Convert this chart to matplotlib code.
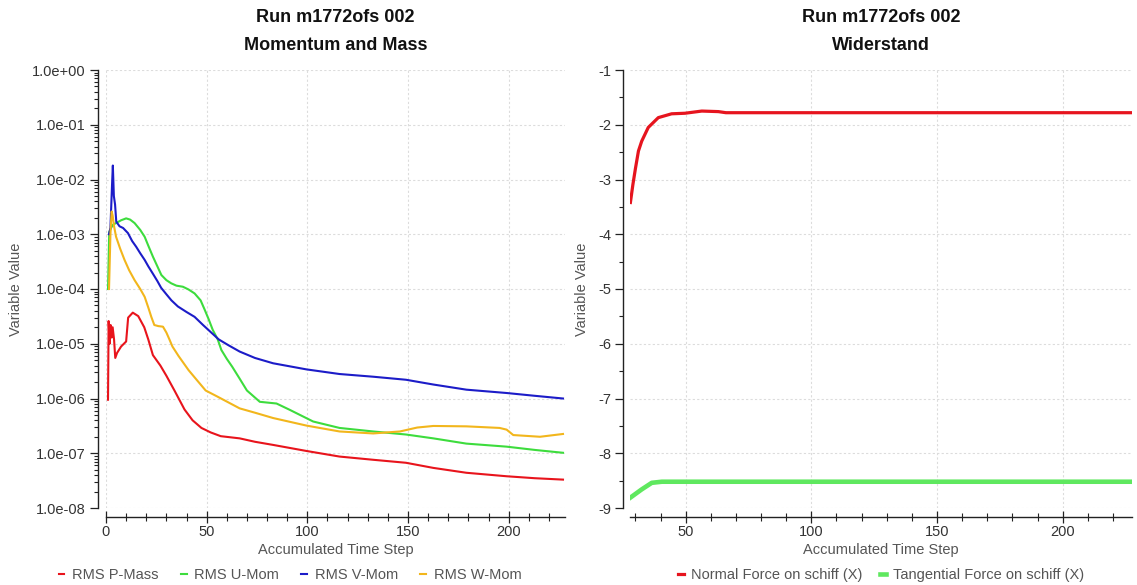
import matplotlib
matplotlib.use("Agg")
from matplotlib import pyplot as plt
from matplotlib.ticker import MultipleLocator, LogLocator, FixedLocator, NullFormatter, FuncFormatter
import numpy as np

plt.rcParams['font.family'] = ['Liberation Sans', 'DejaVu Sans']
plt.rcParams['axes.unicode_minus'] = False

run_title = "Run m1772ofs 002"

# left panel: residuals
p_mass_x = [1, 1.3, 1.8, 2.3, 2.8, 3.3, 4, 4.6, 5.5, 7.5, 10, 11, 13.3, 16, 19, 21, 23.3,
            27, 30, 34, 39, 43, 47.4, 52, 57, 66.4, 74, 83, 99.6, 116, 132.7, 149,
            162.6, 179, 199, 213, 227]
p_mass_y = [9.5e-7, 2.6e-5, 1.0e-5, 2.2e-5, 1.3e-5, 2.0e-5, 1.2e-5, 5.5e-6, 6.8e-6, 8.9e-6,
            1.1e-5, 3.0e-5, 3.7e-5, 3.2e-5, 2.0e-5, 1.2e-5, 6.2e-6, 4.0e-6, 2.6e-6, 1.4e-6,
            6.3e-7, 4.0e-7, 2.9e-7, 2.4e-7, 2.05e-7, 1.87e-7, 1.62e-7, 1.42e-7, 1.1e-7,
            8.7e-8, 7.6e-8, 6.7e-8, 5.4e-8, 4.4e-8, 3.8e-8, 3.5e-8, 3.3e-8]

u_mom_x = [1, 1.6, 2.5, 3.5, 5, 7.5, 10, 12, 14.2, 17, 19.2, 21, 23.3, 25.5, 27.5, 30,
           32.4, 35, 38.2, 41, 44, 47, 49, 51, 53, 55.5, 57.3, 60, 62.7, 66.4, 70, 76.4,
           84.7, 91.3, 102.9, 116, 132.7, 149, 162.6, 179, 199, 213, 227]
u_mom_y = [1e-4, 1.1e-3, 1.3e-3, 1.5e-3, 1.6e-3, 1.8e-3, 1.95e-3, 1.85e-3, 1.6e-3, 1.2e-3,
           9e-4, 6.2e-4, 3.9e-4, 2.6e-4, 1.8e-4, 1.45e-4, 1.27e-4, 1.15e-4, 1.1e-4, 9.8e-5,
           8.3e-5, 6.2e-5, 4.2e-5, 2.8e-5, 1.8e-5, 1.2e-5, 7.7e-6, 5.3e-6, 3.8e-6, 2.3e-6,
           1.4e-6, 8.7e-7, 8.1e-7, 6.2e-7, 3.8e-7, 2.9e-7, 2.5e-7, 2.2e-7, 1.87e-7, 1.5e-7,
           1.32e-7, 1.15e-7, 1.02e-7]

v_mom_x = [1.5, 2.2, 3.0, 3.4, 3.9, 4.5, 5.1, 6.7, 8.5, 10.9, 13, 15, 17, 19.2, 21, 23.3,
           25.5, 27.4, 30, 32.5, 35.7, 40, 44, 48.2, 52.3, 56, 60.6, 66.4, 74, 83, 99.6,
           116, 132.7, 149, 162.6, 179, 199, 213, 227]
v_mom_y = [1.0e-3, 1.3e-3, 8e-3, 1.8e-2, 5e-3, 3.5e-3, 1.7e-3, 1.4e-3, 1.3e-3, 1.05e-3,
           7.5e-4, 5.9e-4, 4.5e-4, 3.4e-4, 2.6e-4, 1.9e-4, 1.4e-4, 1.05e-4, 8e-5, 6.2e-5,
           4.8e-5, 3.8e-5, 3.1e-5, 2.2e-5, 1.6e-5, 1.2e-5, 9.5e-6, 7.2e-6, 5.5e-6, 4.4e-6,
           3.4e-6, 2.8e-6, 2.5e-6, 2.2e-6, 1.8e-6, 1.45e-6, 1.26e-6, 1.12e-6, 1.0e-6]

w_mom_x = [1.5, 2.2, 2.8, 3.3, 4, 5, 7, 9.2, 11.5, 14.2, 17, 19.2, 21, 22.5, 24, 26, 28.3,
           30, 31.5, 33, 36, 41, 45, 49.5, 55, 66.4, 74, 83, 99.6, 116, 132.7, 146, 154.6,
           162.6, 179, 195.5, 199, 202.3, 215.6, 227]
w_mom_y = [1e-4, 1e-3, 2.6e-3, 2.2e-3, 1.4e-3, 9e-4, 5.5e-4, 3.4e-4, 2.2e-4, 1.45e-4,
           1.0e-4, 7.2e-5, 4.6e-5, 3.1e-5, 2.2e-5, 2.1e-5, 2.05e-5, 1.6e-5, 1.2e-5, 8.9e-6,
           6e-6, 3.3e-6, 2.2e-6, 1.4e-6, 1.1e-6, 6.6e-7, 5.5e-7, 4.4e-7, 3.2e-7, 2.5e-7,
           2.3e-7, 2.5e-7, 2.95e-7, 3.15e-7, 3.1e-7, 2.9e-7, 2.7e-7, 2.15e-7, 2.0e-7, 2.25e-7]

# right panel: forces
normal_x = [28, 29, 30, 31.2, 32.5, 35.1, 39.1, 44.4, 49.7, 56.4, 63, 66, 80, 100, 150, 200, 227]
normal_y = [-3.42, -3.09, -2.8, -2.48, -2.3, -2.05, -1.87, -1.8, -1.79, -1.75, -1.76, -1.78,
            -1.78, -1.78, -1.78, -1.78, -1.78]
tangential_x = [28, 32.5, 36.5, 40.5, 60, 100, 150, 200, 227]
tangential_y = [-8.81, -8.66, -8.54, -8.52, -8.52, -8.52, -8.52, -8.52, -8.52]

W, H = 1137, 585
fig = plt.figure(figsize=(W / 100, H / 100), dpi=100)
fig.patch.set_facecolor('white')

tick_col = '#333333'
lab_col = '#555555'
grid_kw = dict(color='#dcdcdc', linestyle=(0, (2, 2)), linewidth=0.8)


def style_axes(ax, yoff_px, xoff_px):
    for s in ['top', 'right']:
        ax.spines[s].set_visible(False)
    ax.spines['left'].set_position(('outward', yoff_px * 0.72))
    ax.spines['bottom'].set_position(('outward', xoff_px * 0.72))
    for s in ['left', 'bottom']:
        ax.spines[s].set_color('#222222')
        ax.spines[s].set_linewidth(1.0)
    ax.tick_params(axis='y', which='major', direction='out', length=6, width=0.9,
                   colors='#222222', labelcolor=tick_col, labelsize=10.5, pad=3)
    ax.tick_params(axis='y', which='minor', direction='out', length=3, width=0.8, colors='#222222')
    ax.tick_params(axis='x', which='major', direction='inout', length=8, width=0.9,
                   colors='#222222', labelcolor=tick_col, labelsize=10.5, pad=2)
    ax.tick_params(axis='x', which='minor', direction='inout', length=6, width=0.8, colors='#222222')
    ax.grid(True, which='major', **grid_kw)
    ax.set_axisbelow(True)


# left
ax1 = fig.add_axes([106 / W, 1 - 508 / H, 459 / W, 438 / H])
ax1.plot(p_mass_x, p_mass_y, color='#e8141c', lw=1.5, label='RMS P-Mass')
ax1.plot(u_mom_x, u_mom_y, color='#3ddc3d', lw=1.5, label='RMS U-Mom')
ax1.plot(v_mom_x, v_mom_y, color='#1c1cc8', lw=1.5, label='RMS V-Mom')
ax1.plot(w_mom_x, w_mom_y, color='#f2b61c', lw=1.5, label='RMS W-Mom')
ax1.set_yscale('log')
ax1.set_ylim(1e-8, 1e0)
ax1.set_xlim(0, 228)
ax1.yaxis.set_major_locator(LogLocator(base=10, numticks=20))
ax1.yaxis.set_minor_locator(LogLocator(base=10, subs=np.arange(2, 10), numticks=20))
ax1.yaxis.set_minor_formatter(NullFormatter())
ax1.yaxis.set_major_formatter(FuncFormatter(lambda v, p: "%.1e" % v))
ax1.xaxis.set_major_locator(MultipleLocator(50))
ax1.xaxis.set_minor_locator(MultipleLocator(10))
style_axes(ax1, 8, 9)

# right
ax2 = fig.add_axes([630.4 / W, 1 - 508 / H, 501.4 / W, 438 / H])
ax2.plot(normal_x, normal_y, color='#e6141e', lw=2.3, label='Normal Force on schiff (X)')
ax2.plot(tangential_x, tangential_y, color='#5fe85f', lw=3.3, label='Tangential Force on schiff (X)')
ax2.set_ylim(-9, -1)
ax2.set_xlim(28, 227.5)
ax2.yaxis.set_major_locator(MultipleLocator(1))
ax2.yaxis.set_minor_locator(MultipleLocator(0.5))
ax2.xaxis.set_major_locator(MultipleLocator(50))
ax2.xaxis.set_minor_locator(FixedLocator(np.arange(30, 228, 10)))
style_axes(ax2, 7, 9)

for ax, sub, lx in [(ax1, 'Momentum and Mass', -0.181), (ax2, 'Widerstand', -0.083)]:
    ax.text(0.5, 1 + (70 - 17) / 438, run_title, transform=ax.transAxes, ha='center', va='center',
            fontsize=13, fontweight='bold', color='#111111')
    ax.text(0.5, 1 + (70 - 45) / 438, sub, transform=ax.transAxes, ha='center', va='center',
            fontsize=13, fontweight='bold', color='#111111')
    ax.set_xlabel('Accumulated Time Step', fontsize=10.5, color=lab_col)
    ax.xaxis.set_label_coords(0.5, -(543 - 508) / 438)
    ax.set_ylabel('Variable Value', fontsize=10.5, color=lab_col)
    ax.yaxis.set_label_coords(lx, 0.5)

leg_kw = dict(loc='center', frameon=False, handlelength=0.4, handletextpad=0.5,
              fontsize=10.5, labelcolor='#555555')
ax1.legend(bbox_to_anchor=((290 - 106) / 459, -(575 - 508) / 438), ncol=4, columnspacing=1.55, **leg_kw)
ax2.legend(bbox_to_anchor=(0.5, -(575 - 508) / 438), ncol=2, columnspacing=1.2, **leg_kw)

fig.savefig('out.png', dpi=100)
